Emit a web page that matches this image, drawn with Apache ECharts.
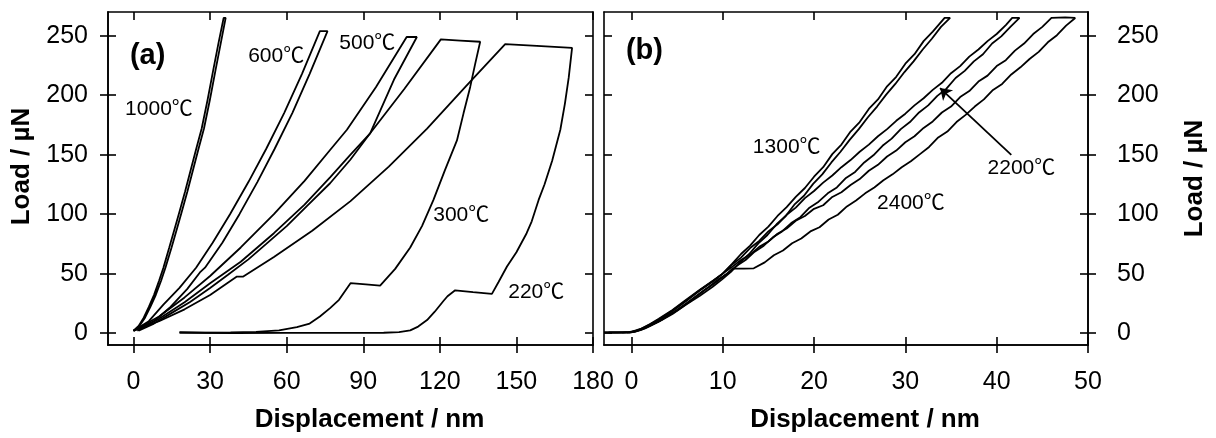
<!DOCTYPE html>
<html>
<head>
<meta charset="utf-8">
<script src="https://cdn.jsdelivr.net/npm/echarts@6/dist/echarts.min.js"></script>
<style>
  html, body { margin: 0; padding: 0; background: #fff; }
  #chart { width: 1216px; height: 438px; }
</style>
</head>
<body>
<div id="chart"></div>
<script>
// 刻度
var ticksXA = [0, 30, 60, 90, 120, 150, 180]
var ticksXB = [0, 10, 20, 30, 40, 50]
var ticksY = [0, 50, 100, 150, 200, 250]

// (a) 各温度的载荷-位移曲线 [nm, µN]
var a1000 = [[0, 2], [2, 6], [4, 13], [6, 22], [8, 32], [10, 44], [11.7, 55], [14, 72], [16, 87], [18, 102], [20.2, 119], [22.5, 138], [24.7, 156], [26.7, 172], [29, 196], [31.3, 222], [33.3, 244], [35.3, 265], [36.1, 265],
  [34.2, 244], [32.2, 222], [29.9, 196], [27.6, 172], [25.6, 156], [23.4, 138], [21.1, 119], [18.9, 102], [16.9, 87], [14.9, 72], [12.5, 55], [10.8, 44], [8.7, 32], [6.6, 22], [4.5, 13], [2.3, 6], [0.5, 2]]
var a600 = [[0, 2], [6, 10], [11.7, 24], [18, 38], [24.5, 55], [31, 76], [37.8, 100], [45, 127], [52, 155], [59, 185], [66, 218], [73, 254], [76, 254],
  [69, 218], [62.2, 185], [55.3, 155], [48.5, 127], [41.5, 100], [34.8, 76], [28, 55], [26, 51], [21, 37], [14.5, 22], [8, 10], [1.5, 2]]
var a500 = [[0, 2], [10, 14], [20, 30], [30, 48], [42, 72], [55, 100], [67, 128], [77, 154], [83.6, 171], [95, 207], [107, 249], [111, 249],
  [102, 213], [92.7, 168], [85, 146], [77, 126], [68, 107], [60, 90], [52, 75], [45, 62], [37, 49], [30, 38], [22, 26], [15, 17], [8, 8], [2, 2]]
var a300 = [[0, 2], [10, 12], [20, 26], [30, 42], [42, 60], [55, 84], [67, 108], [77, 131], [85, 150], [92.7, 168], [106, 205], [120.4, 247], [128, 246], [135.8, 245],
  [133.8, 226], [131.9, 207], [129.3, 185], [126.7, 162], [122, 137], [117.5, 112], [113, 90], [108.4, 72], [102.5, 54], [96.6, 40], [91, 41], [85, 42],
  [80.5, 28], [77, 21], [73, 14], [69, 8], [64, 5], [57, 2.3], [48, 1], [38, 0.5], [28, 0.4], [18, 0.8]]
var a220 = [[0, 2], [10, 10], [20, 20], [30, 32], [40.5, 47.5], [43, 47.5], [55, 64], [70, 86], [85, 111], [100, 140], [115, 172], [130, 207], [145.6, 243], [158, 241.5], [171.8, 239.8],
  [170.5, 215], [169, 193], [167.2, 171], [164, 145], [161, 125], [158.7, 112], [156, 94], [154, 84], [150, 68], [146.3, 56], [143, 43], [140.4, 33], [133, 34.5], [126, 36],
  [123, 31], [121.4, 27], [118, 18], [115, 11], [111.5, 5.5], [108.4, 2.3], [104, 0.8], [98, 0.3], [80, 0.2], [60, 0.2], [40, 0.1], [18, 0.3]]

// (b)
var b1300 = [[-3, 0.5], [-1.5, 0.5], [-0.5, 0.7], [0.5, 1.8], [1.5, 5], [3, 11], [4.5, 18.5], [6, 27], [7.5, 36], [9, 44], [10, 50], [11, 58], [12, 66.5], [13, 73.5], [14, 82.5], [15, 89.5], [16, 98.5], [17, 106], [18, 114.5], [19, 122], [20, 131.5], [21, 139.5], [22, 150.5], [23, 158.5], [24, 169.5], [25, 177.5], [26, 188.5], [27, 196.5], [28, 207.5], [29, 215.5], [30, 226.5], [31, 234.5], [32, 245.5], [33, 253.5], [34.3, 265], [34.9, 265],
  [33.9, 257.5], [32.9, 247.5], [31.9, 238.5], [30.9, 228.5], [29.9, 219.5], [28.9, 209.5], [27.9, 200.5], [26.9, 190.5], [25.9, 181.5], [24.9, 171.5], [23.9, 162.5], [22.9, 152.5], [21.9, 143.5], [20.9, 133.5], [19.9, 125.5], [18.9, 115.5], [17.9, 108.5], [16.9, 98.5], [15.9, 91.5], [14.9, 82.5], [13.9, 75.5], [12.9, 66.5], [11.9, 59.5], [10.9, 51.5], [9.9, 45], [8.9, 39], [7.5, 31.5], [6, 24], [4.5, 16], [3, 9.5], [1.5, 4], [0.3, 1], [-0.5, 0.5]]
var b2200 = [[-2.5, 0.5], [-1, 0.5], [0, 0.8], [1, 3], [2, 7], [3, 11.5], [4.5, 19], [6, 27.5], [7.5, 36], [9, 44], [10, 50], [11, 57.5], [12, 63.5], [13, 71.5], [14, 77.5], [15, 85.5], [16, 91.5], [17, 99.5], [18, 105.5], [19, 113.5], [20, 119.5], [21, 126.5], [22, 132.5], [23, 139.5], [24, 145.5], [25, 152.5], [26, 158.5], [27, 165.5], [28, 171.5], [29, 178.5], [30, 184.5], [31, 191.5], [32, 197.5], [33, 204.5], [34, 210.5], [35, 218.5], [36, 224.5], [37, 232.5], [38, 238.5], [39, 245.5], [40, 251.5], [41, 259], [41.7, 265], [42.5, 265],
  [41.5, 257.5], [40.5, 249.5], [39.5, 243.5], [38.5, 234.5], [37.5, 228.5], [36.5, 220.5], [35.5, 214.5], [34.5, 205.5], [33.5, 199.5], [32.5, 191.5], [31.5, 185.5], [30.5, 177.5], [29.5, 171.5], [28.5, 163.5], [27.5, 157.5], [26.5, 149.5], [25.5, 143.5], [24.5, 135.5], [23.5, 130.5], [22.5, 122.5], [21.5, 117.5], [20.5, 110.5], [19.5, 105.5], [18.5, 97.5], [17.5, 92.5], [16.5, 85.5], [15.5, 80.5], [14.5, 73.5], [13.5, 68.5], [12.5, 61.5], [11.5, 56.5], [10.5, 50], [9.5, 45], [8.5, 39], [7.5, 33.5], [6, 25], [4.5, 17], [3, 10], [1.5, 4.5], [0.5, 1.5], [-0.3, 0.5]]
var b2400 = [[-3, 0.5], [-1, 0.6], [0, 1], [1, 3.5], [2, 7.5], [3, 12], [4.5, 19.5], [6, 28], [7.5, 36.5], [9, 44.5], [10, 50], [11, 55.5], [12, 61.5], [13, 66], [14, 72.5], [15, 77], [16, 83.5], [17, 88], [18, 94.5], [19, 98.5], [20, 104.5], [21, 107.5], [22, 114.5], [23, 118.5], [24, 124.5], [25, 129.5], [26, 136.5], [27, 141.5], [28, 148.5], [29, 153.5], [30, 160.5], [31, 165.5], [32, 172.5], [33, 178], [34, 185.5], [35, 190.5], [36, 198.5], [37, 203.5], [38, 211.5], [39, 216.5], [40, 224.5], [41, 229.5], [42, 237.5], [43, 243.5], [44, 251.5], [45, 257.5], [46, 265], [47.5, 265.5], [48.6, 265],
  [47.6, 258.5], [46.6, 250.5], [45.6, 244.5], [44.6, 236.5], [43.6, 230.5], [42.6, 223.5], [41.6, 217.5], [40.6, 209.5], [39.6, 204.5], [38.6, 196.5], [37.6, 190.5], [36.6, 183.5], [35.6, 177.5], [34.6, 169.5], [33.6, 164.5], [32.6, 156.5], [31.6, 150.5], [30.6, 144.5], [29.6, 139.5], [28.6, 133.5], [27.6, 128.5], [26.6, 122.5], [25.6, 117.5], [24.6, 111.5], [23.6, 106.5], [22.6, 99.5], [21.6, 95.5], [20.6, 89], [19.6, 85.5], [18.6, 79.5], [17.6, 75.5], [16.6, 69.5], [15.6, 65.5], [14.6, 59.5], [13.4, 54.5], [12.3, 54.3], [11.1, 54.2], [10.3, 49], [9.3, 43], [8, 36], [6.5, 27], [5, 19], [3.5, 12], [2, 6], [1, 2.5], [0, 0.6], [-1, 0.4]]

// 标注文字 [x, y, text]
var labelsA = [[-3.3, 188, '1000℃'], [44.9, 233, '600℃'], [80.6, 244, '500℃'], [117.4, 99, '300℃'], [146.8, 34.6, '220℃']]
var labelsB = [[13.3, 156, '1300℃'], [39, 138.6, '2200℃'], [26.9, 109, '2400℃']]
var panelA = [[-1.4, 233, '(a)']]
var panelB = [[-0.6, 237.5, '(b)']]
var arrowB = [[41.6, 149.8], [33.8, 206]]

var FONT = 'Liberation Sans, Noto Sans CJK JP, sans-serif'
var chart = echarts.init(document.getElementById('chart'))

function xAx(grid, min, max, ticks, pos, inside, labels, name) {
  return {
    type: 'value', gridIndex: grid, min: min, max: max, position: pos,
    axisLine: { show: true, onZero: false, lineStyle: { color: '#000', width: 1.6 } },
    axisTick: { show: true, inside: inside, length: 8, customValues: ticks, lineStyle: { color: '#000', width: 1.6 } },
    axisLabel: { show: labels, customValues: ticks, margin: 25, color: '#000', fontSize: 25, fontFamily: FONT },
    splitLine: { show: false },
    name: name || '', nameLocation: 'middle', nameGap: 62,
    nameTextStyle: { color: '#000', fontSize: 26, fontWeight: 'bold', fontFamily: FONT, padding: [0, 0, 0, 38] }
  }
}
function yAx(grid, pos, inside, labels, name, margin, gap, pad) {
  return {
    type: 'value', gridIndex: grid, min: -10, max: 270, position: pos,
    axisLine: { show: true, onZero: false, lineStyle: { color: '#000', width: 1.6 } },
    axisTick: { show: true, inside: inside, length: 8, customValues: ticksY, lineStyle: { color: '#000', width: 1.6 } },
    axisLabel: { show: labels, customValues: ticksY, margin: margin || 20, color: '#000', fontSize: 25, fontFamily: FONT },
    splitLine: { show: false },
    name: name || '', nameLocation: 'middle', nameGap: gap || 70, nameRotate: 90,
    nameTextStyle: { color: '#000', fontSize: 26, fontWeight: 'bold', fontFamily: FONT, padding: pad || 0 }
  }
}
function curve(data, grid) {
  return {
    type: 'line', xAxisIndex: grid * 3, yAxisIndex: grid * 3, data: data,
    showSymbol: false, symbol: 'none', silent: true,
    lineStyle: { color: '#000', width: 1.8 }
  }
}
function texts(data, grid, size, bold) {
  return {
    type: 'scatter', xAxisIndex: grid * 3, yAxisIndex: grid * 3, data: data,
    symbolSize: 0, itemStyle: { color: '#000', opacity: 1 }, silent: true,
    label: {
      show: true, position: 'right', distance: 0, color: '#000', opacity: 1,
      fontSize: size, fontWeight: bold ? 'bold' : 'normal', fontFamily: FONT,
      formatter: function (p) { return p.data[2] }
    }
  }
}

var arrowSeries = curve([], 1)
arrowSeries.markLine = {
  silent: true, symbol: ['none', 'arrow'], symbolSize: 11,
  label: { show: false },
  lineStyle: { color: '#000', width: 1.8, type: 'solid' },
  data: [[{ coord: arrowB[0] }, { coord: arrowB[1] }]]
}

var option = {
  animation: false,
  grid: [
    { left: 108, top: 12, width: 485, height: 333 },
    { left: 604, top: 12, width: 484, height: 333 }
  ],
  xAxis: [
    xAx(0, -10, 180, ticksXA, 'bottom', false, true, 'Displacement / nm'),
    xAx(0, -10, 180, ticksXA, 'bottom', true, false),
    xAx(0, -10, 180, ticksXA, 'top', true, false),
    xAx(1, -3, 50, ticksXB, 'bottom', false, true, 'Displacement / nm'),
    xAx(1, -3, 50, ticksXB, 'bottom', true, false),
    xAx(1, -3, 50, ticksXB, 'top', true, false)
  ],
  yAxis: [
    yAx(0, 'left', false, true, 'Load / µN', 20, 73, [0, 0, 0, 24]),
    yAx(0, 'left', true, false),
    yAx(0, 'right', true, false),
    yAx(1, 'right', false, true, 'Load / µN', 29, 94),
    yAx(1, 'right', true, false),
    yAx(1, 'left', true, false)
  ],
  series: [
    curve(a1000, 0), curve(a600, 0), curve(a500, 0), curve(a300, 0), curve(a220, 0),
    curve(b1300, 1), curve(b2200, 1), curve(b2400, 1),
    arrowSeries,
    texts(labelsA, 0, 21, false), texts(labelsB, 1, 21, false),
    texts(panelA, 0, 29, true), texts(panelB, 1, 29, true)
  ]
}
chart.setOption(option)
</script>
</body>
</html>
